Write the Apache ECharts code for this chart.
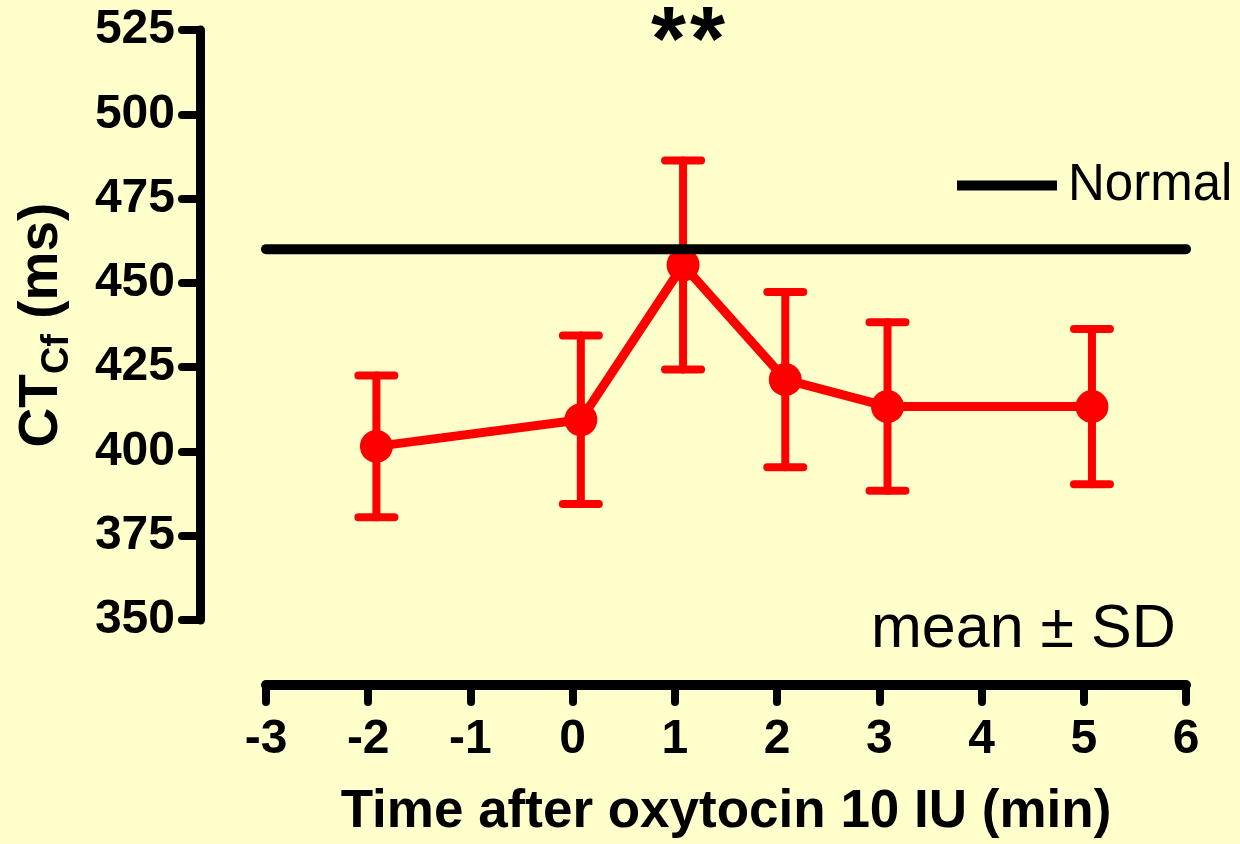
<!DOCTYPE html>
<html>
<head>
<meta charset="utf-8">
<title>CTCf after oxytocin</title>
<script src="https://cdn.jsdelivr.net/npm/echarts@6/dist/echarts.min.js"></script>
<style>
  html, body { margin: 0; padding: 0; background: #FFFFCC; }
  #chart { width: 1240px; height: 844px; }
</style>
</head>
<body>
<div id="chart"></div>
<script>
// Time points (min after oxytocin 10 IU), slightly staggered as plotted
const times = [-1.92, 0.08, 1.08, 2.08, 3.08, 5.08];
// CTCf mean and standard deviation (ms)
const means = [401.5, 409.4, 455.3, 421.3, 413.3, 413.3];
const sds = [21, 25, 31, 26, 25, 23];
// Normal reference value (ms)
const normalValue = 460;
const xTicks = [-3, -2, -1, 0, 1, 2, 3, 4, 5, 6];
const yTicks = [350, 375, 400, 425, 450, 475, 500, 525];

const FONT = "'Liberation Sans', Arial, Helvetica, sans-serif";
const RED = '#FF0000';

const meanPoints = times.map((t, i) => [t, means[i]]);
const errorRows = times.map((t, i) => [t, means[i] - sds[i], means[i] + sds[i]]);
const normalLine = [[xTicks[0], normalValue], [xTicks[xTicks.length - 1], normalValue]];

const chart = echarts.init(document.getElementById('chart'), null, { renderer: 'canvas' });

const option = {
  backgroundColor: '#FFFFCC',
  animation: false,
  grid: { left: 266, right: 54, top: 30, bottom: 222, containLabel: false },
  xAxis: {
    type: 'value',
    min: xTicks[0],
    max: xTicks[xTicks.length - 1],
    interval: 1,
    offset: 65,
    splitLine: { show: false },
    axisLine: { show: true, onZero: false, lineStyle: { color: '#000', width: 10, cap: 'round' } },
    axisTick: { show: true, length: 17, lineStyle: { color: '#000', width: 8, cap: 'round' } },
    axisLabel: { color: '#000', fontSize: 48, fontWeight: 'bold', fontFamily: FONT, margin: 31 },
    name: 'Time after oxytocin 10 IU (min)',
    nameLocation: 'middle',
    nameGap: 101,
    nameTextStyle: { color: '#000', fontSize: 53, fontWeight: 'bold', fontFamily: FONT }
  },
  yAxis: {
    type: 'value',
    min: yTicks[0],
    max: yTicks[yTicks.length - 1],
    interval: 25,
    offset: 66,
    splitLine: { show: false },
    axisLine: { show: true, onZero: false, lineStyle: { color: '#000', width: 9, cap: 'round' } },
    axisTick: { show: true, length: 18, lineStyle: { color: '#000', width: 8, cap: 'round' } },
    axisLabel: { color: '#000', fontSize: 48, fontWeight: 'bold', fontFamily: FONT, margin: 25 },
    name: '{t|CT}{s|Cf}{t| (ms)}',
    nameLocation: 'middle',
    nameGap: 131,
    nameTextStyle: {
      color: '#000',
      fontFamily: FONT,
      rich: {
        t: { fontSize: 55, fontWeight: 'bold', fontFamily: FONT, color: '#000', lineHeight: 55, verticalAlign: 'top' },
        s: { fontSize: 38, fontWeight: 'bold', fontFamily: FONT, color: '#000', lineHeight: 38, verticalAlign: 'top', padding: [25, 0, 0, 0] }
      }
    }
  },
  legend: {
    data: [{ name: 'Normal', icon: 'rect' }],
    left: 957,
    top: 160,
    padding: 0,
    itemWidth: 100,
    itemHeight: 10,
    selectedMode: false,
    textStyle: { color: '#000', fontSize: 51, fontFamily: FONT, padding: [0, 0, 0, 6] }
  },
  graphic: [
    // significance marker above the 1-min point
    {
      type: 'text',
      left: 651,
      top: 0,
      style: { text: '*', fill: '#000', font: 'bold 90px ' + FONT }
    },
    {
      type: 'text',
      left: 690,
      top: 0,
      style: { text: '*', fill: '#000', font: 'bold 90px ' + FONT }
    },
    {
      type: 'text',
      left: 871,
      top: 600,
      style: { text: 'mean \u00B1 SD', fill: '#000', font: '61px ' + FONT }
    }
  ],
  series: [
    {
      name: 'SD',
      type: 'custom',
      data: errorRows,
      z: 2,
      renderItem: function (params, api) {
        const x = api.value(0);
        const lo = api.coord([x, api.value(1)]);
        const hi = api.coord([x, api.value(2)]);
        const half = 18;
        const style = { stroke: RED, lineWidth: 8, lineCap: 'round' };
        return {
          type: 'group',
          children: [
            { type: 'line', shape: { x1: lo[0], y1: lo[1], x2: hi[0], y2: hi[1] }, style: style },
            { type: 'line', shape: { x1: hi[0] - half, y1: hi[1], x2: hi[0] + half, y2: hi[1] }, style: style },
            { type: 'line', shape: { x1: lo[0] - half, y1: lo[1], x2: lo[0] + half, y2: lo[1] }, style: style }
          ]
        };
      }
    },
    {
      name: 'CTCf',
      type: 'line',
      data: meanPoints,
      z: 3,
      symbol: 'circle',
      symbolSize: 33,
      lineStyle: { color: RED, width: 9 },
      itemStyle: { color: RED },
      emphasis: { disabled: true }
    },
    {
      name: 'Normal',
      type: 'line',
      data: normalLine,
      z: 4,
      symbol: 'none',
      lineStyle: { color: '#000', width: 10, cap: 'round' },
      itemStyle: { color: '#000' },
      emphasis: { disabled: true }
    }
  ]
};

chart.setOption(option);
</script>
</body>
</html>
